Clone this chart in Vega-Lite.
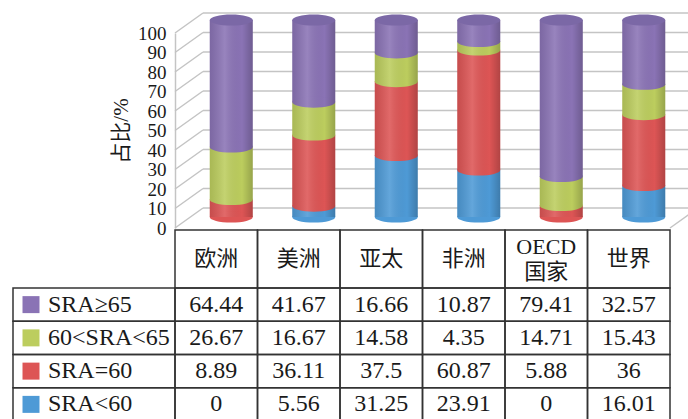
{
  "$schema": "https://vega.github.io/schema/vega-lite/v6.json",
  "autosize": {"type": "none"},
  "padding": {"left": 175, "top": 0, "right": 0, "bottom": 0},
  "width": 513,
  "height": 419,
  "background": "white",
  "config": {"view": {"stroke": null}},
  "datasets": {
    "cells": [
      {"region": "欧洲", "cat": "SRA<60", "value": 0},
      {"region": "欧洲", "cat": "SRA=60", "value": 8.89},
      {"region": "欧洲", "cat": "60<SRA<65", "value": 26.67},
      {"region": "欧洲", "cat": "SRA≥65", "value": 64.44},
      {"region": "美洲", "cat": "SRA<60", "value": 5.56},
      {"region": "美洲", "cat": "SRA=60", "value": 36.11},
      {"region": "美洲", "cat": "60<SRA<65", "value": 16.67},
      {"region": "美洲", "cat": "SRA≥65", "value": 41.67},
      {"region": "亚太", "cat": "SRA<60", "value": 31.25},
      {"region": "亚太", "cat": "SRA=60", "value": 37.5},
      {"region": "亚太", "cat": "60<SRA<65", "value": 14.58},
      {"region": "亚太", "cat": "SRA≥65", "value": 16.66},
      {"region": "非洲", "cat": "SRA<60", "value": 23.91},
      {"region": "非洲", "cat": "SRA=60", "value": 60.87},
      {"region": "非洲", "cat": "60<SRA<65", "value": 4.35},
      {"region": "非洲", "cat": "SRA≥65", "value": 10.87},
      {"region": "OECD国家", "cat": "SRA<60", "value": 0},
      {"region": "OECD国家", "cat": "SRA=60", "value": 5.88},
      {"region": "OECD国家", "cat": "60<SRA<65", "value": 14.71},
      {"region": "OECD国家", "cat": "SRA≥65", "value": 79.41},
      {"region": "世界", "cat": "SRA<60", "value": 16.01},
      {"region": "世界", "cat": "SRA=60", "value": 36},
      {"region": "世界", "cat": "60<SRA<65", "value": 15.43},
      {"region": "世界", "cat": "SRA≥65", "value": 32.57}
    ],
    "regions": [
      {"region": "欧洲", "label": "欧洲"},
      {"region": "美洲", "label": "美洲"},
      {"region": "亚太", "label": "亚太"},
      {"region": "非洲", "label": "非洲"},
      {"region": "OECD国家", "label": "OECD\n国家"},
      {"region": "世界", "label": "世界"}
    ],
    "ticks": [
      {"t": 0}, {"t": 10}, {"t": 20}, {"t": 30}, {"t": 40}, {"t": 50},
      {"t": 60}, {"t": 70}, {"t": 80}, {"t": 90}, {"t": 100}
    ]
  },
  "data": {"name": "cells"},
  "layer": [
    {
      "data": {"name": "ticks"},
      "mark": {"type": "rule", "color": "#c4c4c4", "strokeWidth": 1.5, "yOffset": -20, "xOffset": 28, "x2Offset": 28},
      "encoding": {
        "x": {"datum": "欧洲", "type": "nominal", "bandPosition": 0, "axis": null,
              "scale": {"type": "band", "domain": ["欧洲", "美洲", "亚太", "非洲", "OECD国家", "世界"], "range": [0, 495], "paddingInner": 0, "paddingOuter": 0}},
        "x2": {"datum": "世界", "bandPosition": 1},
        "y": {
          "field": "t", "type": "quantitative",
          "scale": {"domain": [0, 100], "range": [228, 33], "nice": false},
          "axis": {
            "values": [0, 10, 20, 30, 40, 50, 60, 70, 80, 90, 100],
            "title": "占比/%", "grid": false, "ticks": false, "labelPadding": 9,
            "labelFont": "Liberation Serif", "labelFontSize": 19, "labelColor": "#1a1a1a",
            "labelOverlap": false, "labelFlush": false,
            "domainColor": "#c4c4c4", "domainWidth": 1.5,
            "titleFont": "Liberation Serif, Noto Sans CJK SC", "titleFontSize": 21,
            "titleFontWeight": "normal", "titleColor": "#1a1a1a", "titlePadding": 6
          }
        }
      }
    },
    {
      "data": {"name": "ticks"},
      "mark": {"type": "rule", "color": "#c4c4c4", "strokeWidth": 1.5, "x2Offset": 28, "y2Offset": -20},
      "encoding": {
        "x": {"datum": "欧洲", "type": "nominal", "bandPosition": 0, "axis": null,
              "scale": {"type": "band", "domain": ["欧洲", "美洲", "亚太", "非洲", "OECD国家", "世界"], "range": [0, 495], "paddingInner": 0, "paddingOuter": 0}},
        "x2": {"datum": "欧洲", "bandPosition": 0},
        "y": {"field": "t", "type": "quantitative", "axis": null,
              "scale": {"domain": [0, 100], "range": [228, 33], "nice": false}},
        "y2": {"field": "t"}
      }
    },
    {
      "data": {"name": "ticks"},
      "transform": [{"filter": "datum.t === 0"}],
      "mark": {"type": "rule", "color": "#c4c4c4", "strokeWidth": 1.5, "x2Offset": 28, "y2Offset": -20},
      "encoding": {
        "x": {"datum": "世界", "type": "nominal", "bandPosition": 1, "axis": null,
              "scale": {"type": "band", "domain": ["欧洲", "美洲", "亚太", "非洲", "OECD国家", "世界"], "range": [0, 495], "paddingInner": 0, "paddingOuter": 0}},
        "x2": {"datum": "世界", "bandPosition": 1},
        "y": {"field": "t", "type": "quantitative", "axis": null,
              "scale": {"domain": [0, 100], "range": [228, 33], "nice": false}},
        "y2": {"field": "t"}
      }
    },
    {
      "transform": [{"calculate": "indexof(['SRA<60','SRA=60','60<SRA<65','SRA≥65'], datum.cat)", "as": "ord"}],
      "mark": {"type": "bar", "width": 43, "xOffset": 15},
      "encoding": {
        "x": {"field": "region", "type": "nominal", "axis": null,
              "scale": {"type": "band", "domain": ["欧洲", "美洲", "亚太", "非洲", "OECD国家", "世界"], "range": [0, 495], "paddingInner": 0, "paddingOuter": 0}},
        "y": {"field": "value", "type": "quantitative", "stack": "zero", "axis": null,
              "scale": {"domain": [0, 100], "range": [217, 20], "nice": false}},
        "color": {"field": "cat", "type": "nominal", "legend": null,
                  "scale": {"domain": ["SRA≥65", "60<SRA<65", "SRA=60", "SRA<60"], "range": ["#8a73b5", "#bccd5e", "#dd5555", "#4e9ad6"]}},
        "order": {"field": "ord", "type": "quantitative", "sort": "ascending"}
      }
    },
    {
      "transform": [
        {"calculate": "indexof(['SRA<60','SRA=60','60<SRA<65','SRA≥65'], datum.cat)", "as": "ord"},
        {"stack": "value", "groupby": ["region"], "sort": [{"field": "ord", "order": "ascending"}], "as": ["v0", "v1"]},
        {"filter": "datum.value > 0"}
      ],
      "mark": {"type": "point", "shape": "M-1,0A1,0.26,0,1,1,1,0A1,0.26,0,1,1,-1,0Z", "size": 1849, "filled": true, "opacity": 1, "strokeWidth": 0, "xOffset": 15},
      "encoding": {
        "x": {"field": "region", "type": "nominal", "axis": null,
              "scale": {"type": "band", "domain": ["欧洲", "美洲", "亚太", "非洲", "OECD国家", "世界"], "range": [0, 495], "paddingInner": 0, "paddingOuter": 0}},
        "y": {"field": "v0", "type": "quantitative", "axis": null,
              "scale": {"domain": [0, 100], "range": [217, 20], "nice": false}},
        "color": {"field": "cat", "type": "nominal", "legend": null,
                  "scale": {"domain": ["SRA≥65", "60<SRA<65", "SRA=60", "SRA<60"], "range": ["#8a73b5", "#bccd5e", "#dd5555", "#4e9ad6"]}}
      }
    },
    {
      "transform": [{"aggregate": [{"op": "sum", "field": "value", "as": "tot"}], "groupby": ["region"]}],
      "mark": {"type": "bar", "width": 43, "xOffset": 15,
               "fill": {"gradient": "linear", "x1": 0, "x2": 1, "y1": 0, "y2": 0,
                        "stops": [{"offset": 0, "color": "rgba(0,0,0,0.10)"}, {"offset": 0.35, "color": "rgba(255,255,255,0.12)"}, {"offset": 0.75, "color": "rgba(0,0,0,0)"}, {"offset": 1, "color": "rgba(0,0,0,0.2)"}]}},
      "encoding": {
        "x": {"field": "region", "type": "nominal", "axis": null,
              "scale": {"type": "band", "domain": ["欧洲", "美洲", "亚太", "非洲", "OECD国家", "世界"], "range": [0, 495], "paddingInner": 0, "paddingOuter": 0}},
        "y": {"field": "tot", "type": "quantitative", "axis": null,
              "scale": {"domain": [0, 100], "range": [217, 20], "nice": false}}
      }
    },
    {
      "transform": [{"aggregate": [{"op": "sum", "field": "value", "as": "tot"}], "groupby": ["region"]}],
      "mark": {"type": "point", "shape": "M-1,0A1,0.26,0,1,1,1,0A1,0.26,0,1,1,-1,0Z", "size": 1849, "filled": true, "opacity": 1, "strokeWidth": 0, "xOffset": 15, "color": "#7b68a6"},
      "encoding": {
        "x": {"field": "region", "type": "nominal", "axis": null,
              "scale": {"type": "band", "domain": ["欧洲", "美洲", "亚太", "非洲", "OECD国家", "世界"], "range": [0, 495], "paddingInner": 0, "paddingOuter": 0}},
        "y": {"field": "tot", "type": "quantitative", "axis": null,
              "scale": {"domain": [0, 100], "range": [217, 20], "nice": false}}
      }
    },
    {
      "data": {"name": "regions"},
      "mark": {"type": "rect", "fill": "transparent", "stroke": "#333333", "strokeWidth": 1.5},
      "encoding": {
        "x": {"field": "region", "type": "nominal", "axis": null,
              "scale": {"type": "band", "domain": ["欧洲", "美洲", "亚太", "非洲", "OECD国家", "世界"], "range": [0, 495], "paddingInner": 0, "paddingOuter": 0}},
        "y": {"datum": "h", "type": "nominal", "axis": null,
              "scale": {"type": "band", "domain": ["h"], "range": [230, 288], "paddingInner": 0, "paddingOuter": 0}}
      }
    },
    {
      "data": {"name": "regions"},
      "transform": [{"filter": "datum.region !== 'OECD国家'"}],
      "mark": {"type": "text", "font": "Liberation Serif, Noto Sans CJK SC", "fontSize": 22, "color": "#1a1a1a", "baseline": "middle", "align": "center"},
      "encoding": {
        "x": {"field": "region", "type": "nominal", "axis": null,
              "scale": {"type": "band", "domain": ["欧洲", "美洲", "亚太", "非洲", "OECD国家", "世界"], "range": [0, 495], "paddingInner": 0, "paddingOuter": 0}},
        "y": {"datum": "h", "type": "nominal", "axis": null,
              "scale": {"type": "band", "domain": ["h"], "range": [230, 288], "paddingInner": 0, "paddingOuter": 0}},
        "text": {"field": "label", "type": "nominal"}
      }
    },
    {
      "data": {"name": "regions"},
      "transform": [{"filter": "datum.region === 'OECD国家'"}],
      "mark": {"type": "text", "font": "Liberation Serif, Noto Sans CJK SC", "fontSize": 22, "color": "#1a1a1a", "lineBreak": "\n", "lineHeight": 25, "baseline": "middle", "align": "center", "dy": -12},
      "encoding": {
        "x": {"field": "region", "type": "nominal", "axis": null,
              "scale": {"type": "band", "domain": ["欧洲", "美洲", "亚太", "非洲", "OECD国家", "世界"], "range": [0, 495], "paddingInner": 0, "paddingOuter": 0}},
        "y": {"datum": "h", "type": "nominal", "axis": null,
              "scale": {"type": "band", "domain": ["h"], "range": [230, 288], "paddingInner": 0, "paddingOuter": 0}},
        "text": {"field": "label", "type": "nominal"}
      }
    },
    {
      "mark": {"type": "rect", "fill": "transparent", "stroke": "#333333", "strokeWidth": 1.5},
      "encoding": {
        "x": {"field": "region", "type": "nominal", "axis": null,
              "scale": {"type": "band", "domain": ["欧洲", "美洲", "亚太", "非洲", "OECD国家", "世界"], "range": [0, 495], "paddingInner": 0, "paddingOuter": 0}},
        "y": {"field": "cat", "type": "nominal", "axis": null,
              "scale": {"type": "band", "domain": ["SRA≥65", "60<SRA<65", "SRA=60", "SRA<60"], "range": [288, 421], "paddingInner": 0, "paddingOuter": 0}}
      }
    },
    {
      "mark": {"type": "text", "font": "Liberation Serif", "fontSize": 24, "color": "#1a1a1a", "baseline": "middle", "align": "center"},
      "encoding": {
        "x": {"field": "region", "type": "nominal", "axis": null,
              "scale": {"type": "band", "domain": ["欧洲", "美洲", "亚太", "非洲", "OECD国家", "世界"], "range": [0, 495], "paddingInner": 0, "paddingOuter": 0}},
        "y": {"field": "cat", "type": "nominal", "axis": null,
              "scale": {"type": "band", "domain": ["SRA≥65", "60<SRA<65", "SRA=60", "SRA<60"], "range": [288, 421], "paddingInner": 0, "paddingOuter": 0}},
        "text": {"field": "value", "type": "quantitative"}
      }
    },
    {
      "transform": [{"aggregate": [], "groupby": ["cat"]}],
      "mark": {"type": "rect", "fill": "transparent", "stroke": "#333333", "strokeWidth": 1.5},
      "encoding": {
        "x": {"datum": "L", "type": "nominal", "axis": null,
              "scale": {"type": "band", "domain": ["L"], "range": [-162, 0], "paddingInner": 0, "paddingOuter": 0}},
        "y": {"field": "cat", "type": "nominal", "axis": null,
              "scale": {"type": "band", "domain": ["SRA≥65", "60<SRA<65", "SRA=60", "SRA<60"], "range": [288, 421], "paddingInner": 0, "paddingOuter": 0}}
      }
    },
    {
      "transform": [{"aggregate": [], "groupby": ["cat"]}],
      "mark": {"type": "point", "shape": "square", "size": 289, "filled": true, "opacity": 1, "strokeWidth": 0, "xOffset": -63},
      "encoding": {
        "x": {"datum": "L", "type": "nominal", "axis": null,
              "scale": {"type": "band", "domain": ["L"], "range": [-162, 0], "paddingInner": 0, "paddingOuter": 0}},
        "y": {"field": "cat", "type": "nominal", "axis": null,
              "scale": {"type": "band", "domain": ["SRA≥65", "60<SRA<65", "SRA=60", "SRA<60"], "range": [288, 421], "paddingInner": 0, "paddingOuter": 0}},
        "color": {"field": "cat", "type": "nominal", "legend": null,
                  "scale": {"domain": ["SRA≥65", "60<SRA<65", "SRA=60", "SRA<60"], "range": ["#8a73b5", "#bccd5e", "#dd5555", "#4e9ad6"]}}
      }
    },
    {
      "transform": [{"aggregate": [], "groupby": ["cat"]}],
      "mark": {"type": "text", "font": "Liberation Serif", "fontSize": 24, "color": "#1a1a1a", "baseline": "middle", "align": "left", "xOffset": -46},
      "encoding": {
        "x": {"datum": "L", "type": "nominal", "axis": null,
              "scale": {"type": "band", "domain": ["L"], "range": [-162, 0], "paddingInner": 0, "paddingOuter": 0}},
        "y": {"field": "cat", "type": "nominal", "axis": null,
              "scale": {"type": "band", "domain": ["SRA≥65", "60<SRA<65", "SRA=60", "SRA<60"], "range": [288, 421], "paddingInner": 0, "paddingOuter": 0}},
        "text": {"field": "cat", "type": "nominal"}
      }
    }
  ],
  "resolve": {"scale": {"x": "independent", "y": "independent"}}
}
